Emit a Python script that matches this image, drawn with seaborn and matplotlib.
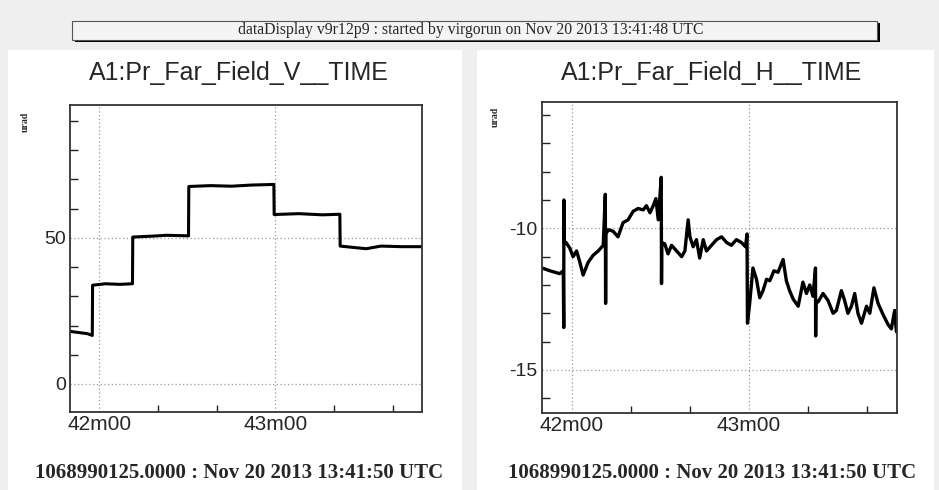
import numpy as np
import pandas as pd
import matplotlib
matplotlib.use("Agg")
import matplotlib.pyplot as plt
import seaborn as sns
from matplotlib.patches import Rectangle
from matplotlib.ticker import MultipleLocator, FixedLocator

# seconds since 13:41:50 (42m00 = 10 s, 43m00 = 70 s)
t_v = [0, 3, 6, 7.6, 7.7, 12, 17, 21.3, 21.4, 28, 33, 40.4, 40.5, 48, 55, 62, 69.5,
       69.6, 78, 86, 92, 92.1, 98, 101, 106, 113, 120]
v_v = [18.0, 17.6, 17.2, 16.6, 33.8, 34.3, 34.1, 34.3, 50.3, 50.6, 50.9, 50.7, 67.6,
       67.9, 67.7, 68.1, 68.3, 58.0, 58.3, 57.9, 58.1, 47.2, 46.6, 46.3, 47.2, 47.0, 47.0]

t_h = [0, 2.7, 6.0, 7.2, 7.35, 7.4, 7.5, 8.1, 9.4, 10.5, 11.7, 12.8, 13.9, 15.6, 17.3,
       19.0, 20.7, 21.4, 21.5, 21.6, 22.4, 24.0, 25.7, 27.4, 29.1, 30.8, 32.5, 34.2,
       35.3, 36.5, 37.6, 38.5, 39.3, 40.3, 40.4, 40.5, 41.5, 42.6, 43.8, 45.5, 47.2,
       48.3, 49.4, 50.0, 51.1, 52.2, 53.3, 54.5, 55.6, 57.3, 59.0, 60.7, 62.4, 64.0,
       65.7, 67.4, 68.8, 69.3, 69.45, 70.2, 71.3, 72.5, 73.6, 74.7, 75.9, 77.0, 78.4,
       79.8, 81.5, 82.6, 83.7, 84.9, 86.6, 88.2, 89.4, 90.5, 91.6, 92.45, 92.5, 92.6,
       93.3, 95.0, 96.7, 98.4, 99.5, 101.2, 102.3, 103.4, 104.6, 105.7, 106.8, 108.0,
       109.7, 110.8, 112.2, 113.6, 115.3, 117.0, 118.1, 119.2, 119.8]
v_h = [-11.4, -11.5, -11.6, -11.5, -13.5, -9.0, -10.5, -10.5, -10.7, -11.0, -10.8,
       -11.2, -11.65, -11.2, -10.95, -10.8, -10.6, -8.8, -12.65, -10.2, -10.05, -10.1,
       -10.3, -9.8, -9.7, -9.4, -9.3, -9.35, -9.2, -9.45, -9.2, -8.95, -9.7, -8.2,
       -11.95, -10.5, -10.55, -10.9, -10.6, -10.8, -11.0, -10.8, -9.7, -10.3, -10.65,
       -10.4, -11.05, -10.4, -10.8, -10.6, -10.4, -10.3, -10.5, -10.6, -10.4, -10.5,
       -10.65, -10.2, -13.35, -12.65, -11.4, -11.8, -12.45, -12.2, -11.8, -11.85, -11.5,
       -11.55, -11.1, -11.85, -12.2, -12.5, -12.75, -11.9, -12.3, -12.0, -12.4, -11.4,
       -13.8, -12.6, -12.6, -12.3, -12.55, -13.0, -12.9, -12.2, -12.55, -13.0, -12.75,
       -12.3, -13.0, -13.35, -12.75, -13.0, -12.1, -12.65, -13.05, -13.4, -13.55,
       -12.9, -13.65]

x_ticks = [10, 70]
x_labels = ["42m00", "43m00"]
titles = ["A1:Pr_Far_Field_V__TIME", "A1:Pr_Far_Field_H__TIME"]
header = "dataDisplay v9r12p9 : started by virgorun on Nov 20 2013 13:41:48 UTC"
footer = "1068990125.0000 : Nov 20 2013 13:41:50 UTC"

sns.set_style("white")
plt.rcParams["font.family"] = ["Liberation Sans", "DejaVu Sans"]
plt.rcParams["axes.unicode_minus"] = False

fig = plt.figure(figsize=(9.39, 4.90), dpi=100, facecolor="#efefef")

# fundos brancos dos paineis (atras dos eixos)
fig.patches.append(Rectangle((8 / 939, 0), 454 / 939, 440 / 490, transform=fig.transFigure,
                             facecolor="white", edgecolor="none", zorder=-10))
fig.patches.append(Rectangle((477 / 939, 0), 457 / 939, 440 / 490, transform=fig.transFigure,
                             facecolor="white", edgecolor="none", zorder=-10))

# barra do cabecalho
fig.patches.append(Rectangle((75 / 939, (490 - 42) / 490), 805 / 939, 19 / 490,
                             transform=fig.transFigure, facecolor="black", edgecolor="none", zorder=-5))
fig.patches.append(Rectangle((72 / 939, (490 - 40) / 490), 805 / 939, 19 / 490,
                             transform=fig.transFigure, facecolor="#f4f4f4",
                             edgecolor="#555555", linewidth=0.8, zorder=-4))
fig.text(471 / 939, (490 - 30.5) / 490, header, ha="center", va="center", fontsize=11.3,
         family=["Liberation Serif"], zorder=3)

ax1 = fig.add_axes([70 / 939, 78 / 490, 352 / 939, 307 / 490])
ax2 = fig.add_axes([542 / 939, 77 / 490, 355 / 939, 311 / 490])

df_v = pd.DataFrame({"t": t_v, "v": v_v})
df_h = pd.DataFrame({"t": t_h, "v": v_h})
sns.lineplot(data=df_v, x="t", y="v", ax=ax1, color="black", lw=2.2,
             estimator=None, sort=False)
sns.lineplot(data=df_h, x="t", y="v", ax=ax2, color="black", lw=2.4,
             estimator=None, sort=False)

ax1.set_ylim(-9.6, 95.5)
ax2.set_ylim(-16.52, -5.54)
ax1.yaxis.set_major_locator(FixedLocator([0, 50]))
ax1.yaxis.set_minor_locator(MultipleLocator(10))
ax2.yaxis.set_major_locator(FixedLocator([-15, -10]))
ax2.yaxis.set_minor_locator(MultipleLocator(1))

for ax, title, cx in [(ax1, titles[0], 239), (ax2, titles[1], 712)]:
    ax.set_xlim(0, 120)
    ax.set_xticks(x_ticks)
    ax.set_xticklabels(x_labels)
    ax.xaxis.set_minor_locator(FixedLocator([30, 50, 90, 110]))
    ax.set_xlabel("")
    ax.set_ylabel("")
    ax.grid(True, which="major", color="#9a9a9a", linestyle=(0, (1, 2)), linewidth=0.9)
    ax.tick_params(axis="both", which="both", direction="in", color="#222222")
    ax.tick_params(axis="y", which="major", length=9, width=1, labelsize=14, pad=3)
    ax.tick_params(axis="y", which="minor", length=5.5, width=1, left=True)
    ax.tick_params(axis="x", which="major", length=5, width=1, labelsize=15, pad=2)
    ax.tick_params(axis="x", which="minor", length=5, width=1, bottom=True)
    for s in ax.spines.values():
        s.set_color("#333333")
        s.set_linewidth(1.3)
    fig.text(cx / 939, (490 - 73) / 490, title, ha="center", va="center", fontsize=18)
    fig.text(cx / 939, (490 - 473) / 490, footer, ha="center", va="center", fontsize=15,
             family=["Liberation Serif"], fontweight="bold")

fig.text(25 / 939, (490 - 122) / 490, "urad", rotation=90, ha="center", va="center",
         fontsize=7, family=["Liberation Serif"], fontweight="bold")
fig.text(495 / 939, (490 - 117) / 490, "urad", rotation=90, ha="center", va="center",
         fontsize=7, family=["Liberation Serif"], fontweight="bold")

fig.savefig("out.png", dpi=100, facecolor=fig.get_facecolor())
